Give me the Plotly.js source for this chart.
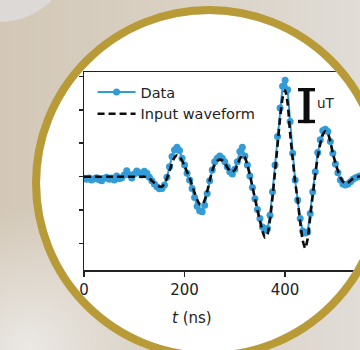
<!DOCTYPE html>
<html>
<head>
<meta charset="utf-8">
<script src="https://cdn.plot.ly/plotly-3.0.1.min.js"></script>
<style>
  html, body { margin: 0; padding: 0; width: 360px; height: 350px; overflow: hidden; background: #ddd6cc; }
  #chart { position: absolute; left: 0; top: 0; width: 360px; height: 350px; }
  #frame { position: absolute; left: 0; top: 0; pointer-events: none; }
</style>
</head>
<body>
<div id="chart"></div>
<svg id="frame" width="360" height="350" viewBox="0 0 360 350">
  <defs>
    <linearGradient id="bgLin" x1="0" y1="0" x2="1" y2="0">
      <stop offset="0" stop-color="#d3c8b7"/>
      <stop offset="0.45" stop-color="#d9d0c3"/>
      <stop offset="1" stop-color="#e1ddd8"/>
    </linearGradient>
    <radialGradient id="bgRad" cx="30" cy="350" r="140" gradientUnits="userSpaceOnUse">
      <stop offset="0" stop-color="#ebe8e5" stop-opacity="1"/>
      <stop offset="1" stop-color="#ebe8e5" stop-opacity="0"/>
    </radialGradient>
  </defs>
  <path fill-rule="evenodd" fill="url(#bgLin)"
        d="M0,0 H360 V350 H0 Z M40,183 A169,169 0 1,0 378,183 A169,169 0 1,0 40,183 Z"/>
  <path fill-rule="evenodd" fill="url(#bgRad)"
        d="M0,0 H360 V350 H0 Z M40,183 A169,169 0 1,0 378,183 A169,169 0 1,0 40,183 Z"/>
  <circle cx="0" cy="-50" r="72" fill="#dcd9d6"/>
  <circle cx="209" cy="183" r="173" fill="none" stroke="#b89b37" stroke-width="8"/>
</svg>
<script>
// time axis (ns)
const tNs = [0,5,10,15,20,25,30,35,40,45,50,55,60,65,70,75,80,85,90,95,100,105,110,115,120,125,130,135,140,145,150,155,160,165,170,175,180,185,190,195,200,205,210,215,220,225,230,235,240,245,250,255,260,265,270,275,280,285,290,295,300,305,310,315,320,325,330,335,340,345,350,355,360,365,370,375,380,385,390,395,400,405,410,415,420,425,430,435,440,445,450,455,460,465,470,475,480,485,490,495,500,505,510,515,520,525,530,535,540,545,550];

// measured data (uT)
const dataValues = [-0.05,-0.08,-0.04,-0.10,-0.06,-0.03,-0.09,-0.12,-0.05,-0.02,-0.08,-0.04,-0.10,0.02,-0.06,-0.03,0.05,0.18,0.06,-0.04,0.08,0.17,0.12,0.05,0.16,
  0.10,-0.02,-0.12,-0.22,-0.30,-0.36,-0.35,-0.25,-0.02,0.30,0.60,0.80,0.88,0.78,0.55,0.35,0.10,-0.10,-0.35,-0.62,-0.88,-1.02,-1.05,-0.85,-0.50,-0.12,0.20,0.45,0.55,0.62,0.55,0.45,0.30,0.15,0.08,0.22,0.45,0.75,0.88,0.62,0.35,0.02,-0.32,-0.66,-0.98,-1.25,-1.50,-1.60,-1.55,-1.15,-0.45,0.35,1.20,2.05,2.70,2.88,2.60,1.65,0.70,-0.10,-0.70,-1.25,-1.62,-1.68,-1.65,-1.10,-0.45,0.15,0.72,1.10,1.38,1.42,1.35,1.05,0.70,0.38,0.12,-0.10,-0.22,-0.25,-0.22,-0.15,-0.08,-0.03,0.00,0.02];

// input waveform (uT)
const inputValues = [0,0,0,0,0,0,0,0,0,0,0,0,0,0,0,0,0,0,0,0,0,0,0,0,
  0.00,-0.02,-0.06,-0.12,-0.19,-0.25,-0.29,-0.30,-0.22,-0.05,0.17,0.40,0.57,0.64,0.60,0.48,0.32,0.14,-0.03,-0.25,-0.48,-0.68,-0.82,-0.84,-0.70,-0.44,-0.12,0.17,0.36,0.47,0.51,0.49,0.40,0.28,0.18,0.15,0.20,0.35,0.53,0.65,0.58,0.35,0.06,-0.30,-0.65,-1.00,-1.32,-1.62,-1.82,-1.72,-1.28,-0.62,0.15,0.95,1.75,2.35,2.58,2.20,1.30,0.55,-0.15,-0.70,-1.35,-1.90,-2.14,-1.85,-1.20,-0.55,0.05,0.60,0.98,1.25,1.36,1.30,1.05,0.70,0.42,0.18,-0.02,-0.15,-0.20,-0.18,-0.12,-0.06,-0.02,0.00,0.02];

const xTickVals = [0, 200, 400];
const xTickText = ['0', '200', '400'];
const yTickVals = [-2, -1, 0, 1, 2, 3];
const scaleBar = [1.60, 2.65]; // uT, bottom and top of the scale bar

const blue = '#339bd7';
const axisFont = { family: 'DejaVu Sans', size: 15, color: '#222222' };

const traces = [
  {
    x: tNs, y: dataValues, name: 'Data', type: 'scatter', mode: 'lines+markers',
    line: { color: blue, width: 2 },
    marker: { color: blue, size: 7 }
  },
  {
    x: tNs, y: inputValues, name: 'Input waveform', type: 'scatter', mode: 'lines',
    line: { color: '#0d0d0d', width: 2.6, dash: '7px,4px', shape: 'spline', smoothing: 0.6 }
  }
];

const layout = {
  width: 360, height: 350,
  margin: { l: 84, r: 0, t: 72, b: 80 },
  paper_bgcolor: '#ffffff', plot_bgcolor: '#ffffff',
  showlegend: true,
  legend: {
    x: 0.031, y: 0.98, xanchor: 'left', yanchor: 'top',
    bgcolor: 'rgba(255,255,255,0)', borderwidth: 0,
    font: { family: 'DejaVu Sans', size: 14.5, color: '#222222' },
    itemwidth: 38
  },
  xaxis: {
    range: [0, 549], showgrid: false, zeroline: false,
    showline: true, mirror: true, linecolor: '#222', linewidth: 1.5,
    ticks: 'outside', ticklen: 5, tickwidth: 1.5, tickcolor: '#222',
    tickvals: xTickVals, ticktext: xTickText, tickfont: axisFont
  },
  yaxis: {
    range: [-2.788, 3.128], showgrid: false, zeroline: false,
    showline: true, mirror: true, linecolor: '#222', linewidth: 1.5,
    ticks: 'outside', ticklen: 4, tickwidth: 1.5, tickcolor: '#222',
    tickvals: yTickVals, showticklabels: false
  },
  annotations: [
    { xref: 'paper', yref: 'paper', x: 0.391, y: -0.2424, xanchor: 'center', yanchor: 'middle',
      text: '<i>t</i> (ns)', showarrow: false, font: axisFont },
    { xref: 'paper', yref: 'paper', x: 0.8786, y: 0.8434, xanchor: 'center', yanchor: 'middle',
      text: 'uT', showarrow: false, font: { family: 'DejaVu Sans', size: 13.5, color: '#222222' } }
  ],
  shapes: [
    { type: 'line', xref: 'paper', yref: 'y', x0: 0.8062, x1: 0.8062, y0: scaleBar[0], y1: scaleBar[1],
      line: { color: '#0d0d0d', width: 6 } },
    { type: 'rect', xref: 'paper', yref: 'y', x0: 0.7754, x1: 0.8370, y0: scaleBar[1] - 0.1, y1: scaleBar[1],
      fillcolor: '#0d0d0d', line: { width: 0 } },
    { type: 'rect', xref: 'paper', yref: 'y', x0: 0.7754, x1: 0.8370, y0: scaleBar[0], y1: scaleBar[0] + 0.1,
      fillcolor: '#0d0d0d', line: { width: 0 } }
  ]
};

Plotly.newPlot('chart', traces, layout, { staticPlot: true, displayModeBar: false });
</script>
</body>
</html>
